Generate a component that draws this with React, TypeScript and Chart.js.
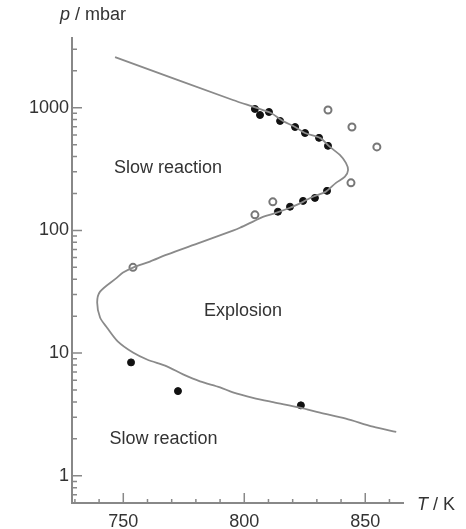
import React, { useEffect, useRef } from "react";
import { Chart, registerables } from "chart.js";

Chart.register(...registerables);

// Boundary curve (explosion limits)
const curveT = [746.6, 795.3, 804.8, 811.0, 816.0, 821.0, 825.1, 831.3, 835.4, 839.5, 842.0, 842.9, 841.6, 837.9, 833.7, 828.4, 824.3, 818.9, 813.1, 807.7, 803.6, 798.2, 795.3, 781.7, 768.0, 761.0, 754.0, 749.9, 747.4, 740.4, 739.2, 740.4, 743.3, 747.8, 754.0, 759.8, 768.0, 774.7, 781.7, 790.0, 795.3, 803.6, 811.9, 823.0, 831.3, 842.0, 853.2, 862.8];
const curveP = [2582, 1156, 1000, 906, 780, 697, 622, 568, 479, 412, 355, 311, 274, 244, 207, 188, 171, 153, 139, 129, 118, 105, 99.5, 79.4, 63.4, 55.7, 49.8, 45.3, 41.2, 31.7, 25.8, 19.5, 16.1, 12.4, 10.1, 8.87, 7.8, 6.71, 5.89, 5.26, 4.79, 4.32, 3.98, 3.59, 3.27, 2.92, 2.51, 2.28];

// Measured points: filled circles
const filledT = [804.4, 806.5, 810.2, 814.8, 821.0, 825.1, 830.9, 834.6, 813.9, 818.9, 824.3, 829.2, 834.2, 753.2, 772.6, 823.4];
const filledP = [977, 872, 923, 780, 696, 622, 568, 489, 142, 156, 174, 184, 210, 8.4, 4.9, 3.75];

// Measured points: open circles
const openT = [834.6, 844.5, 854.8, 844.1, 804.4, 811.8, 754.0];
const openP = [958, 696, 479, 244, 134, 171, 50];

// Axis ticks
const xTicks = [750, 800, 850];
const xMinor = [730, 740, 760, 770, 780, 790, 810, 820, 830, 840, 860];
const yTicks = [1, 10, 100, 1000];

// Region labels
const regionText = ["Slow reaction", "Explosion", "Slow reaction"];
const regionT = [768.5, 799.5, 766.6];
const regionP = [324, 22.2, 1.99];

const FONT = "'Liberation Sans', Arial, sans-serif";

export default function App() {
  const ref = useRef<HTMLCanvasElement | null>(null);

  useEffect(() => {
    document.body.style.margin = "0";
    const canvas = ref.current!;
    const toXY = (ts: number[], ps: number[]) => ts.map((t, i) => ({ x: t, y: ps[i] }));

    const decor = {
      id: "decor",
      afterDraw(chart: any) {
        const ctx = chart.ctx as CanvasRenderingContext2D;
        const xs = chart.scales.x;
        const ys = chart.scales.y;
        const { left, bottom } = chart.chartArea;
        ctx.save();
        ctx.strokeStyle = "#888";
        ctx.lineWidth = 1.5;
        ctx.beginPath();
        for (const v of xTicks) {
          const px = xs.getPixelForValue(v);
          ctx.moveTo(px, bottom);
          ctx.lineTo(px, bottom - 10);
        }
        for (const v of xMinor) {
          const px = xs.getPixelForValue(v);
          ctx.moveTo(px, bottom);
          ctx.lineTo(px, bottom - 4);
        }
        for (const v of yTicks) {
          const py = ys.getPixelForValue(v);
          ctx.moveTo(left, py);
          ctx.lineTo(left + 10, py);
        }
        for (let d = -1; d <= 3; d++) {
          for (let k = 2; k <= 9; k++) {
            const v = k * Math.pow(10, d);
            if (v < ys.min || v > ys.max) continue;
            const py = ys.getPixelForValue(v);
            ctx.moveTo(left, py);
            ctx.lineTo(left + 5, py);
          }
        }
        ctx.stroke();

        ctx.fillStyle = "#333";
        ctx.font = `18px ${FONT}`;
        ctx.textAlign = "center";
        ctx.textBaseline = "middle";
        regionText.forEach((t, i) => {
          ctx.fillText(t, xs.getPixelForValue(regionT[i]), ys.getPixelForValue(regionP[i]));
        });
        ctx.font = `italic 18px ${FONT}`;
        ctx.textAlign = "left";
        ctx.fillText("p", 60, 15);
        ctx.font = `18px ${FONT}`;
        ctx.fillText(" / mbar", 70, 15);
        ctx.font = `italic 18px ${FONT}`;
        ctx.fillText("T", 417, 505);
        ctx.font = `18px ${FONT}`;
        ctx.fillText(" / K", 428, 505);
        ctx.restore();
      },
    };

    const chart = new Chart(canvas, {
      type: "scatter",
      data: {
        datasets: [
          {
            data: toXY(curveT, curveP),
            showLine: true,
            borderColor: "#8a8a8a",
            borderWidth: 1.8,
            pointRadius: 0,
            tension: 0.3,
          },
          {
            data: toXY(filledT, filledP),
            pointRadius: 3.5,
            pointStyle: "circle",
            backgroundColor: "#111",
            borderColor: "#111",
            borderWidth: 1,
          },
          {
            data: toXY(openT, openP),
            pointRadius: 3.5,
            pointStyle: "circle",
            backgroundColor: "#fff",
            borderColor: "#777",
            borderWidth: 2,
          },
        ],
      },
      plugins: [decor],
      options: {
        animation: false,
        responsive: false,
        devicePixelRatio: 1,
        layout: { padding: { top: 38, right: 63, left: 0, bottom: 0 } },
        plugins: { legend: { display: false }, tooltip: { enabled: false } },
        scales: {
          x: {
            type: "linear",
            min: 728.8,
            max: 865.6,
            grid: { display: false, drawTicks: false },
            border: { display: true, color: "#888", width: 2 },
            afterBuildTicks: (s: any) => {
              s.ticks = xTicks.map((v) => ({ value: v }));
            },
            afterFit: (s: any) => {
              s.height = 26;
            },
            ticks: {
              padding: 8,
              color: "#333",
              font: { family: FONT, size: 18 },
              callback: (v: any) => String(v),
            },
          },
          y: {
            type: "logarithmic",
            min: 0.61,
            max: 3700,
            grid: { display: false, drawTicks: false },
            border: { display: true, color: "#888", width: 2 },
            afterBuildTicks: (s: any) => {
              s.ticks = yTicks.map((v) => ({ value: v }));
            },
            afterFit: (s: any) => {
              s.width = 72;
            },
            ticks: {
              padding: 3,
              color: "#333",
              font: { family: FONT, size: 18 },
              callback: (v: any) => String(v),
            },
          },
        },
      },
    });
    return () => chart.destroy();
  }, []);

  return (
    <div style={{ position: "fixed", left: 0, top: 0, width: 466, height: 529 }}>
      <canvas ref={ref} width={466} height={529} />
    </div>
  );
}
